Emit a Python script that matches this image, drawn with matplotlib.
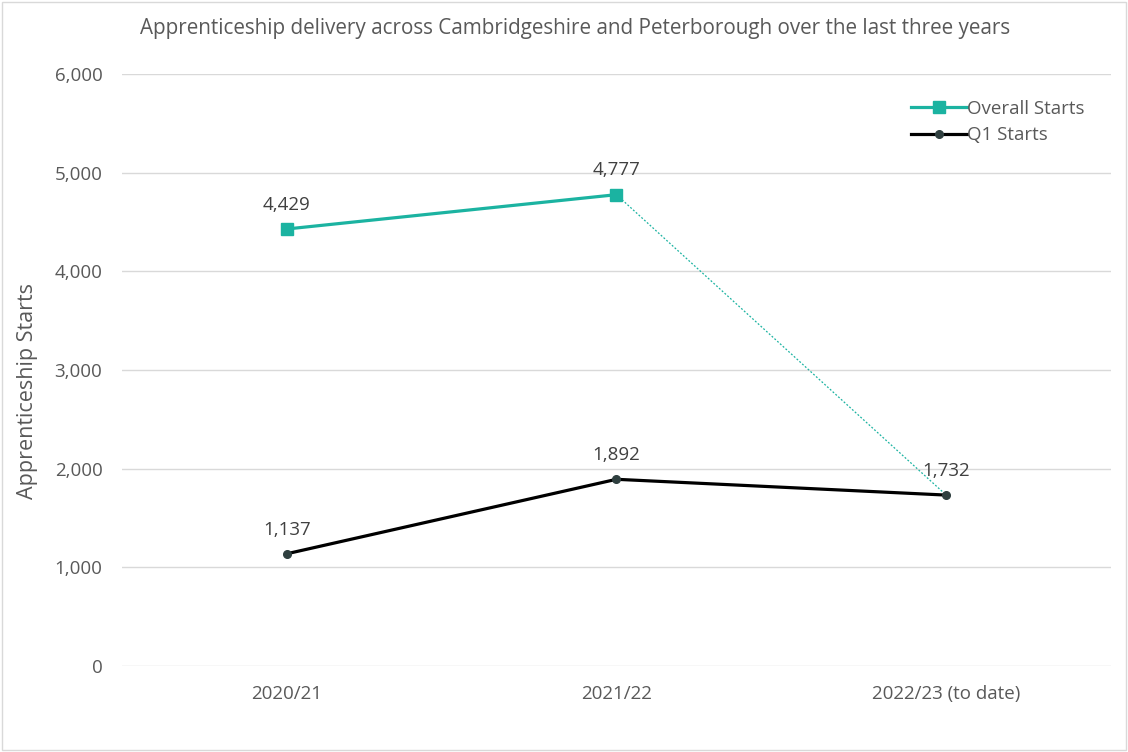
import matplotlib.pyplot as plt
from matplotlib.ticker import FuncFormatter

plt.rcParams['font.family'] = ['Open Sans', 'DejaVu Sans']

years = ["2020/21", "2021/22", "2022/23 (to date)"]
overall_starts = [4429, 4777, 1732]
q1_starts = [1137, 1892, 1732]
y_ticks = [0, 1000, 2000, 3000, 4000, 5000, 6000]

teal = '#1BB3A1'
grey_text = '#595959'

fig = plt.figure(figsize=(11.28, 7.52), dpi=100)
ax = fig.add_axes([0.108, 0.1144, 0.877, 0.7872])
x = list(range(len(years)))

# overall starts: solid for the full years, thin dotted to the part year
ax.plot(x[:2], overall_starts[:2], color=teal, lw=2.3, marker='s', ms=8,
        label='Overall Starts', zorder=3)
ax.plot(x[1:], overall_starts[1:], color=teal, lw=0.9, ls=(0, (1.5, 1.5)), zorder=2)

ax.plot(x, q1_starts, color='black', lw=2.3, marker='o', ms=5.5,
        mfc='#2F3F3F', mec='#2F3F3F', label='Q1 Starts', zorder=4)

for xi, v in zip(x[:2], overall_starts[:2]):
    ax.annotate(f"{v:,}", (xi, v), xytext=(0, 11), textcoords='offset points',
                ha='center', va='bottom', fontsize=13.5, color='#404040')
for xi, v in zip(x, q1_starts):
    ax.annotate(f"{v:,}", (xi, v), xytext=(0, 11), textcoords='offset points',
                ha='center', va='bottom', fontsize=13.5, color='#404040')

ax.set_xlim(-0.5, 2.5)
ax.set_ylim(0, 6000)
ax.set_xticks(x)
ax.set_xticklabels(years)
ax.set_yticks(y_ticks)
ax.yaxis.set_major_formatter(FuncFormatter(lambda v, p: f"{int(v):,}"))
ax.grid(axis='y', color='#D9D9D9', lw=1)
ax.set_axisbelow(True)
for s in ax.spines.values():
    s.set_visible(False)
ax.tick_params(length=0, labelsize=13.5, colors=grey_text, pad=14)
ax.tick_params(axis='x', pad=14)

ax.set_ylabel('Apprenticeship Starts', fontsize=15.5, color=grey_text)
ax.yaxis.set_label_coords(-0.085, 0.465)
fig.text(0.51, 0.962, 'Apprenticeship delivery across Cambridgeshire and Peterborough over the last three years',
         ha='center', va='center', fontsize=14.9, color=grey_text)

leg = ax.legend(loc='upper right', bbox_to_anchor=(0.99, 0.985), frameon=False,
                fontsize=13.5, handlelength=3.0, handletextpad=0.0, labelspacing=0.45)
for t in leg.get_texts():
    t.set_color(grey_text)

border = plt.Rectangle((0.002, 0.002), 0.996, 0.996, transform=fig.transFigure,
                       fill=False, ec='#D9D9D9', lw=1)
fig.patches.append(border)

fig.savefig('out.png', dpi=100)
